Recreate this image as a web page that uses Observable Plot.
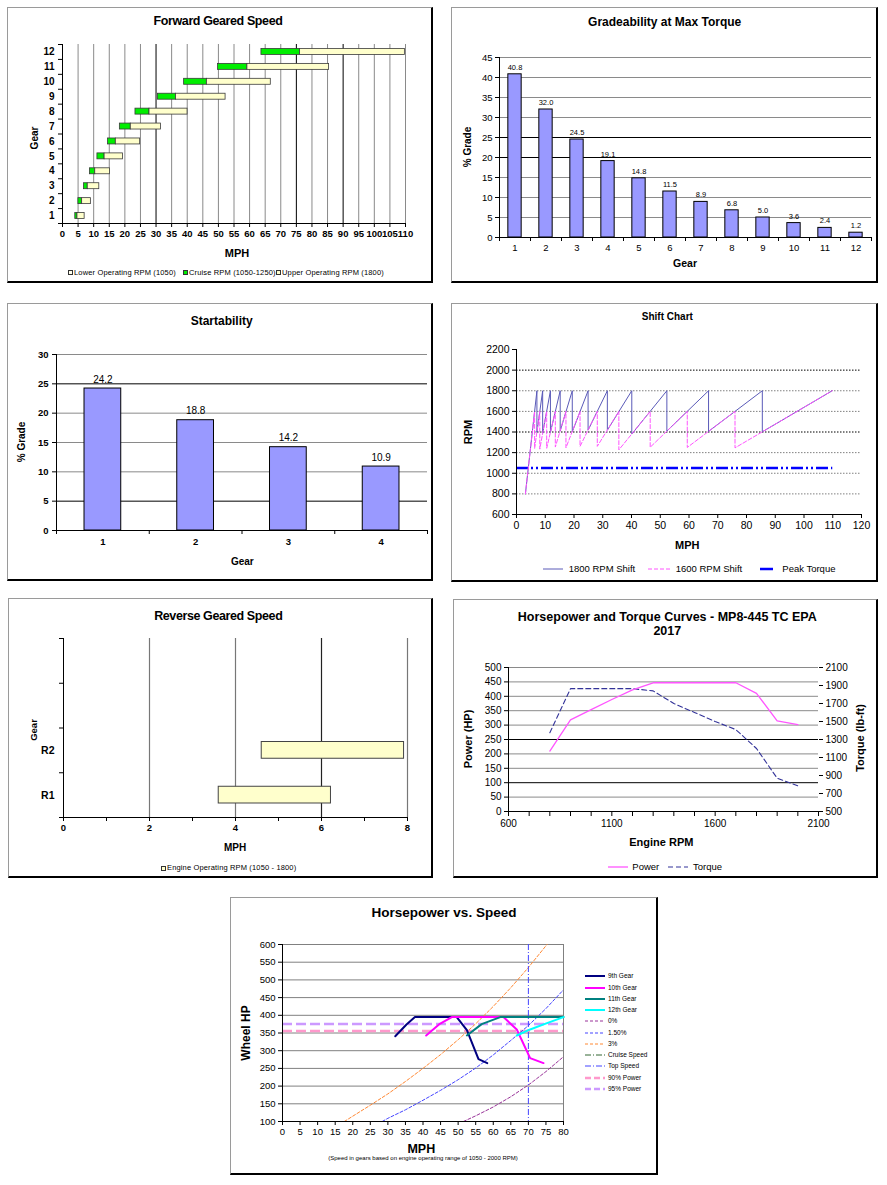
<!DOCTYPE html>
<html><head><meta charset="utf-8">
<script src="https://cdn.jsdelivr.net/npm/d3@7"></script>
<script src="https://cdn.jsdelivr.net/npm/@observablehq/plot@0.6"></script>
<style>
body{margin:0;background:#fff;font-family:'Liberation Sans',Arial,Helvetica,sans-serif;}
#root{position:relative;width:887px;height:1185px;overflow:hidden;background:#fff;}
.panel{position:absolute;box-sizing:border-box;border-left:1px solid #9a9a9a;border-top:1px solid #9a9a9a;border-right:2px solid #000;border-bottom:2px solid #000;}
.t{position:absolute;white-space:nowrap;line-height:1;color:#000;}
</style></head><body><div id="root"></div>
<script>
// ---------- DATA ----------
// Forward Geared Speed (MPH at RPM)
const fwdGears = [1,2,3,4,5,6,7,8,9,10,11,12];
const fwdLower = [4.1,5.1,6.9,8.8,11.2,14.6,18.4,23.4,30.6,39.0,49.9,63.8];
const fwdCruise = [4.8,6.3,8.1,10.5,13.5,17.1,21.9,27.9,36.4,46.3,59.3,76.2];
const fwdUpper = [7.1,9.1,11.8,15.2,19.4,24.9,31.6,40.1,52.3,66.8,85.5,109.8];
const fwdTicks = [0,5,10,15,20,25,30,35,40,45,50,55,60,65,70,75,80,85,90,95,100,105,110];

// Gradeability
const gradeGears = [1,2,3,4,5,6,7,8,9,10,11,12];
const gradeValues = [40.8,32.0,24.5,19.1,14.8,11.5,8.9,6.8,5.0,3.6,2.4,1.2];

// Startability
const startGears = [1,2,3,4];
const startValues = [24.2,18.8,14.2,10.9];

// Shift chart
const shift1800Mph = [3.1,7.1,7.1,9.1,9.1,11.8,11.8,15.2,15.2,19.4,19.4,24.9,24.9,31.6,31.6,40.1,40.1,52.3,52.3,66.8,66.8,85.5,85.5,109.8];
const shift1800Rpm = [800,1800,1396,1800,1388,1800,1397,1800,1410,1800,1402,1800,1418,1800,1418,1800,1380,1800,1409,1800,1406,1800,1402,1800];
const shift1600Mph = [3.1,6.3,6.3,8.1,8.1,10.5,10.5,13.5,13.5,17.2,17.2,22.1,22.1,28.1,28.1,35.6,35.6,46.5,46.5,59.4,59.4,76.0,76.0,109.8];
const shift1600Rpm = [800,1600,1241,1600,1234,1600,1242,1600,1254,1600,1247,1600,1261,1600,1261,1600,1227,1600,1252,1600,1250,1600,1246,1800];
const peakTorqueRpm = 1050;
const peakTorqueMph = [0,110];

// Reverse geared speed
const revGears = ["R1","R2"];
const revLower = [3.61,4.61];
const revUpper = [6.22,7.92];

// Horsepower & Torque curves
const engRpm = [800,900,1000,1100,1200,1300,1400,1500,1600,1700,1800,1900,2000];
const engPower = [210,318,354,389,422,447,447,447,447,447,410,315,302];
const engTorque = [1375,1865,1865,1865,1865,1840,1700,1600,1500,1410,1200,870,785];
const torqueTicks = [500,700,900,1100,1300,1500,1700,1900,2100];

// Horsepower vs speed
const g9Mph = [32.1,35.3,37.7,49.6,52.5,55.8,58.3];
const g9Hp = [341,374,395,395,358,276,265];
const g10Mph = [40.9,44.8,48.2,62.9,66.7,70.5,74.3];
const g10Hp = [343,376,395,395,360,279,265];
const g11Mph = [52.5,56.7,62.0,80];
const g11Hp = [343,375,395,395];
const g12Mph = [66.7,70.5,75.3,80];
const g12Hp = [343,360,378,395];
const grade0Mph = [51.5,55,60,65,70,75,80];
const grade0Hp = [100,116,141,170,203,241,283];
const grade15Mph = [28.4,30,35,40,45,50,55,60,65,70,75,80];
const grade15Hp = [100,109,133,160,188,218,251,288,329,371,419,472];
const grade3Mph = [17.6,20,25,30,35,40,45,50,55,60,65,70,75.3];
const grade3Hp = [100,115,146,178,213,250,289,331,376,425,478,535,600];
const topSpeed = 70;
const power90 = 355.5;
const power95 = 375.3;

// ---------- HELPERS ----------
const FONT = "'Liberation Sans', Arial, Helvetica, sans-serif";
const root = document.getElementById("root");
const svgNS = "http://www.w3.org/2000/svg";
const F = d => String(d);
function addPanel(x,y,w,h){const d=document.createElement("div");d.className="panel";Object.assign(d.style,{left:x+"px",top:y+"px",width:w+"px",height:h+"px"});root.appendChild(d);}
function addPlot(x,y,svg){svg.style.position="absolute";svg.style.left=x+"px";svg.style.top=y+"px";root.appendChild(svg);}
function txt(s,x,y,o={}){
  const d=document.createElement("div");d.className="t";d.textContent=s;
  d.style.fontSize=(o.size||10)+"px";d.style.fontWeight=o.bold?"bold":"normal";
  if(o.ls!==undefined) d.style.letterSpacing=o.ls+"px";
  const a=o.anchor||"middle";const tx=a==="middle"?"-50%":a==="end"?"-100%":"0";
  d.style.left=x+"px";d.style.top=y+"px";
  d.style.transform=`translate(${tx},-50%)`+(o.rotate?` rotate(${o.rotate}deg)`:"");
  root.appendChild(d);
}
function lineSample(x1,x2,y,stroke,w,dash){
  const s=document.createElementNS(svgNS,"svg");
  s.setAttribute("width",x2-x1);s.setAttribute("height",8);
  s.style.cssText=`position:absolute;left:${x1}px;top:${y-4}px;overflow:visible`;
  const l=document.createElementNS(svgNS,"line");
  l.setAttribute("x1",0);l.setAttribute("x2",x2-x1);l.setAttribute("y1",4);l.setAttribute("y2",4);
  l.setAttribute("stroke",stroke);l.setAttribute("stroke-width",w);if(dash)l.setAttribute("stroke-dasharray",dash);
  s.appendChild(l);root.appendChild(s);
}
function box(x,y,size,fill){const d=document.createElement("div");d.style.cssText=`position:absolute;left:${x}px;top:${y-size/2}px;width:${size}px;height:${size}px;background:${fill};border:1px solid #333;box-sizing:border-box`;root.appendChild(d);}
const base = {fontFamily:FONT, background:"transparent", overflow:"visible", color:"#000"};
const range = (a,b,s)=>d3.range(a,b+s/2,s);

// ---------- PANEL 1: Forward Geared Speed ----------
addPanel(7,7,426,276);
const fwd = fwdGears.map((g,i)=>({gear:g,lower:fwdLower[i],cruise:fwdCruise[i],upper:fwdUpper[i]}));
const darkFwd = [30,75,90];
addPlot(7,7,Plot.plot({
  width:426,height:276,marginLeft:55,marginRight:28,marginTop:37,marginBottom:60,
  style:{...base,fontSize:"9.5px",fontWeight:"bold"},
  x:{domain:[0,110]}, y:{domain:[0.5,12.5]},
  marks:[
    Plot.ruleX(fwdTicks.filter(d=>d>0&&!darkFwd.includes(d)),{stroke:"#8a8a8a"}),
    Plot.ruleX(darkFwd,{stroke:"#000"}),
    Plot.rect(fwd,{x1:"lower",x2:"cruise",y1:d=>d.gear-0.2,y2:d=>d.gear+0.2,fill:"#00ee00",stroke:"#3a3a3a",strokeWidth:0.8}),
    Plot.rect(fwd,{x1:"cruise",x2:"upper",y1:d=>d.gear-0.2,y2:d=>d.gear+0.2,fill:"#ffffcc",stroke:"#3a3a3a",strokeWidth:0.8}),
    Plot.ruleY([0.5],{stroke:"#000"}),
    Plot.ruleX([0],{stroke:"#000"}),
    Plot.axisX({ticks:fwdTicks,tickSize:4,tickPadding:3,tickFormat:F,label:null}),
    Plot.axisY({ticks:range(0.5,12.5,1),tickSize:4,tickFormat:()=>"",label:null}),
    Plot.axisY({ticks:fwdGears,tickSize:0,tickPadding:8,tickFormat:F,label:null,fontSize:10})
  ]
}));
txt("Forward Geared Speed",218,21,{size:12.5,bold:true,ls:-0.4});
txt("MPH",237,253,{size:11,bold:true});
txt("Gear",35,138,{size:10,bold:true,rotate:-90});
box(68,272.7,5,"#ffffee");txt("Lower Operating RPM (1050)",74,272.7,{size:7.5,anchor:"start",ls:0.15});
box(183,272.7,5,"#00ee00");txt("Cruise RPM (1050-1250)",189,272.7,{size:7.5,anchor:"start",ls:0.15});
box(276,272.7,5,"#ffffcc");txt("Upper Operating RPM (1800)",282,272.7,{size:7.5,anchor:"start",ls:0.15});

// ---------- PANEL 2: Gradeability ----------
addPanel(451,7,427,276);
const grade = gradeGears.map((g,i)=>({g,v:gradeValues[i]}));
addPlot(451,7,Plot.plot({
  width:427,height:276,marginLeft:48,marginRight:7,marginTop:50,marginBottom:46,
  style:{...base,fontSize:"9.5px"},
  x:{domain:[0.5,12.5]}, y:{domain:[0,45]},
  marks:[
    Plot.ruleY([5,10,15,30,35,40,45],{stroke:"#8a8a8a"}),
    Plot.ruleY([20,25],{stroke:"#000"}),
    Plot.rect(grade,{x1:d=>d.g-0.215,x2:d=>d.g+0.215,y1:0,y2:"v",fill:"#9999ff",stroke:"#000",strokeWidth:1}),
    Plot.text(grade,{x:"g",y:"v",text:d=>d.v.toFixed(1),dy:-7,fontSize:7.5}),
    Plot.ruleY([0],{stroke:"#000"}),
    Plot.ruleX([0.5],{stroke:"#000"}),
    Plot.axisY({ticks:range(0,45,5),tickSize:4,tickPadding:3,tickFormat:F,label:null}),
    Plot.axisX({ticks:range(0.5,12.5,1),tickSize:4,tickFormat:()=>"",label:null}),
    Plot.axisX({ticks:gradeGears,tickSize:0,tickPadding:7,tickFormat:F,label:null})
  ]
}));
txt("Gradeability at Max Torque",664.7,22.3,{size:12,bold:true});
txt("Gear",685,263.3,{size:10.5,bold:true});
txt("% Grade",468,146.7,{size:10,bold:true,rotate:-90});

// ---------- PANEL 3: Startability ----------
addPanel(7,303,426,278);
const start = startGears.map((g,i)=>({g,v:startValues[i]}));
addPlot(7,303,Plot.plot({
  width:426,height:278,marginLeft:49,marginRight:6,marginTop:51,marginBottom:51,
  style:{...base,fontSize:"9.5px",fontWeight:"bold"},
  x:{domain:[0.5,4.5]}, y:{domain:[0,30]},
  marks:[
    Plot.ruleY([10,15,20,30],{stroke:"#8a8a8a"}),
    Plot.ruleY([5,25],{stroke:"#000"}),
    Plot.rect(start,{x1:d=>d.g-0.198,x2:d=>d.g+0.198,y1:0,y2:"v",fill:"#9999ff",stroke:"#000",strokeWidth:1}),
    Plot.text(start,{x:"g",y:"v",text:d=>d.v.toFixed(1),dy:-9,fontSize:10,fontWeight:"normal"}),
    Plot.ruleY([0],{stroke:"#000"}),
    Plot.ruleX([0.5],{stroke:"#000"}),
    Plot.axisY({ticks:range(0,30,5),tickSize:4,tickPadding:4,tickFormat:F,label:null}),
    Plot.axisX({ticks:range(0.5,4.5,1),tickSize:4,tickFormat:()=>"",label:null}),
    Plot.axisX({ticks:startGears,tickSize:0,tickPadding:8,tickFormat:F,label:null})
  ]
}));
txt("Startability",221.7,320.7,{size:12,bold:true});
txt("Gear",242.3,561.7,{size:10,bold:true});
txt("% Grade",21.7,441.7,{size:10,bold:true,rotate:-90});

// ---------- PANEL 4: Shift Chart ----------
addPanel(451,303,427,279);
const s1800 = shift1800Mph.map((m,i)=>({m,r:shift1800Rpm[i]}));
const s1600 = shift1600Mph.map((m,i)=>({m,r:shift1600Rpm[i]}));
addPlot(451,303,Plot.plot({
  width:427,height:279,marginLeft:65,marginRight:17,marginTop:46,marginBottom:68,
  style:{...base,fontSize:"10.5px"},
  x:{domain:[0,120]}, y:{domain:[600,2200]},
  marks:[
    Plot.ruleY([800,1000,1200,1600,1800],{stroke:"#808080",strokeDasharray:"1.5,1.5"}),
    Plot.ruleY([1400,2000],{stroke:"#000",strokeDasharray:"1.5,1.5"}),
    Plot.ruleY([peakTorqueRpm],{x1:peakTorqueMph[0],x2:peakTorqueMph[1],stroke:"#0000ff",strokeWidth:2.5,strokeDasharray:"12,3,2,3,2,3"}),
    Plot.line(s1800,{x:"m",y:"r",stroke:"#5a5ab8",strokeWidth:1}),
    Plot.line(s1600,{x:"m",y:"r",stroke:"#ff55ff",strokeWidth:1,strokeDasharray:"4,2"}),
    Plot.ruleY([600],{stroke:"#000"}),
    Plot.ruleX([0],{stroke:"#000"}),
    Plot.axisY({ticks:range(600,2200,200),tickSize:4,tickPadding:3,tickFormat:F,label:null}),
    Plot.axisX({ticks:range(0,120,10),tickSize:4,tickPadding:3,tickFormat:F,label:null})
  ]
}));
txt("Shift Chart",667.3,317.3,{size:10,bold:true});
txt("MPH",687.3,545,{size:11,bold:true});
txt("RPM",468,431.7,{size:11,bold:true,rotate:-90});
lineSample(543,563,569.3,"#5a5ab8",1);txt("1800 RPM Shift",568.7,569.3,{size:9.5,anchor:"start"});
lineSample(648,670,569.3,"#ff55ff",1,"4,2");txt("1600 RPM Shift",675.7,569.3,{size:9.5,anchor:"start"});
lineSample(760,773,569.3,"#0000ff",2.5);txt("Peak Torque",782.3,569.3,{size:9.5,anchor:"start"});

// ---------- PANEL 5: Reverse Geared Speed ----------
addPanel(8,598,425,280);
const rev = revGears.map((g,i)=>({i:i+1,lower:revLower[i],upper:revUpper[i]}));
addPlot(8,598,Plot.plot({
  width:425,height:280,marginLeft:55,marginRight:26,marginTop:40,marginBottom:61,
  style:{...base,fontSize:"9.5px",fontWeight:"bold"},
  x:{domain:[0,8]}, y:{domain:[0.5,4.5]},
  marks:[
    Plot.ruleX([2,4,8],{stroke:"#777",strokeWidth:1.2}),
    Plot.ruleX([6],{stroke:"#222",strokeWidth:1.2}),
    Plot.rect(rev,{x1:"lower",x2:"upper",y1:d=>d.i-0.187,y2:d=>d.i+0.187,fill:"#ffffcc",stroke:"#444",strokeWidth:1}),
    Plot.ruleY([0.5],{stroke:"#000"}),
    Plot.ruleX([0],{stroke:"#000"}),
    Plot.axisX({ticks:range(0,8,1),tickSize:4,tickFormat:d=>d%2===0?String(d):"",tickPadding:3,label:null}),
    Plot.axisY({ticks:range(0.5,4.5,1),tickSize:4,tickFormat:()=>"",label:null}),
    Plot.axisY({ticks:[1,2],tickSize:0,tickPadding:9,tickFormat:d=>revGears[d-1],label:null,fontSize:10.5})
  ]
}));
txt("Reverse Geared Speed",218.3,615.7,{size:12.5,bold:true,ls:-0.4});
txt("MPH",235,848.3,{size:10,bold:true});
txt("Gear",34.3,730,{size:9.5,bold:true,rotate:-90});
box(161,868.3,5,"#ffffcc");txt("Engine Operating RPM (1050 - 1800)",167,868.3,{size:7.5,anchor:"start",ls:0.15});

// ---------- PANEL 6: Horsepower and Torque ----------
addPanel(453,599,425,279);
const eng = engRpm.map((r,i)=>({r,p:engPower[i],t:engTorque[i]}));
const tq2hp = t=>(t-500)*500/1600;
addPlot(453,599,Plot.plot({
  width:425,height:279,marginLeft:55,marginRight:60,marginTop:68,marginBottom:67,
  style:{...base,fontSize:"10px"},
  x:{domain:[600,2100]}, y:{domain:[0,500]},
  marks:[
    Plot.ruleY([50,150,200,300,350,400,450,500],{stroke:"#8a8a8a"}),
    Plot.ruleY([100,250],{stroke:"#000"}),
    Plot.line(eng,{x:"r",y:d=>tq2hp(d.t),stroke:"#333399",strokeWidth:1.1,strokeDasharray:"5,3"}),
    Plot.line(eng,{x:"r",y:"p",stroke:"#ff55ff",strokeWidth:1.3}),
    Plot.ruleX([600],{stroke:"#000"}),
    Plot.ruleY([0],{stroke:"#000"}),
    Plot.axisY({ticks:range(0,500,50),tickSize:4,tickPadding:3,tickFormat:F,label:null}),
    Plot.axisY({anchor:"right",ticks:torqueTicks.map(tq2hp),tickFormat:v=>String(Math.round(v*1600/500+500)),tickSize:4,tickPadding:3,label:null}),
    Plot.axisX({ticks:range(600,2100,100),tickSize:5,tickPadding:3,tickFormat:d=>d%500===100?String(d):"",label:null})
  ]
}));
txt("Horsepower and Torque Curves - MP8-445 TC EPA",667.3,616.7,{size:12.5,bold:true});
txt("2017",667.3,631,{size:12.5,bold:true});
txt("Engine RPM",661.3,841.7,{size:11,bold:true});
txt("Power (HP)",468,739,{size:11,bold:true,rotate:-90});
txt("Torque (lb-ft)",859.7,738.3,{size:11,bold:true,rotate:-90});
lineSample(608,628,866.7,"#ff55ff",1.3);txt("Power",632.3,866.7,{size:9.5,anchor:"start"});
lineSample(668,688,866.7,"#333399",1.1,"5,3");txt("Torque",693,866.7,{size:9.5,anchor:"start"});

// ---------- PANEL 7: Horsepower vs Speed ----------
addPanel(230,897,428,278);
const zipMH = (m,h)=>m.map((x,i)=>({m:x,h:h[i]}));
addPlot(230,897,Plot.plot({
  width:428,height:278,marginLeft:52,marginRight:95,marginTop:47,marginBottom:54,
  style:{...base,fontSize:"9.5px"},
  x:{domain:[0,80]}, y:{domain:[100,600]},
  marks:[
    Plot.ruleY(range(150,600,50),{stroke:"#808080"}),
    Plot.ruleX([80],{stroke:"#808080"}),
    Plot.ruleY([power90],{stroke:"#ff99cc",strokeWidth:2.5,strokeDasharray:"10,4"}),
    Plot.ruleY([power95],{stroke:"#cc99ff",strokeWidth:2.5,strokeDasharray:"10,4"}),
    Plot.line(zipMH(grade0Mph,grade0Hp),{x:"m",y:"h",stroke:"#993399",strokeWidth:1,strokeDasharray:"3,2",clip:true}),
    Plot.line(zipMH(grade15Mph,grade15Hp),{x:"m",y:"h",stroke:"#4444ff",strokeWidth:1,strokeDasharray:"3,2",clip:true}),
    Plot.line(zipMH(grade3Mph,grade3Hp),{x:"m",y:"h",stroke:"#ff8833",strokeWidth:1,strokeDasharray:"3,2",clip:true}),
    Plot.ruleX([topSpeed],{stroke:"#4444ff",strokeWidth:1,strokeDasharray:"6,2,1,2"}),
    Plot.line(zipMH(g9Mph,g9Hp),{x:"m",y:"h",stroke:"#000080",strokeWidth:2}),
    Plot.line(zipMH(g10Mph,g10Hp),{x:"m",y:"h",stroke:"#ff00ff",strokeWidth:2}),
    Plot.line(zipMH(g11Mph,g11Hp),{x:"m",y:"h",stroke:"#008080",strokeWidth:2}),
    Plot.line(zipMH(g12Mph,g12Hp),{x:"m",y:"h",stroke:"#00ffff",strokeWidth:2}),
    Plot.ruleX([0],{stroke:"#000"}),
    Plot.ruleY([100],{stroke:"#000"}),
    Plot.axisY({ticks:range(100,600,50),tickSize:4,tickPadding:3,tickFormat:F,label:null}),
    Plot.axisX({ticks:range(0,80,5),tickSize:4,tickPadding:3,tickFormat:F,label:null})
  ]
}));
txt("Horsepower vs. Speed",444,913.3,{size:13.5,bold:true});
txt("MPH",421.3,1149,{size:12.5,bold:true});
txt("(Speed in gears based on engine operating range of 1050 - 2000 RPM)",423,1158.3,{size:6});
txt("Wheel HP",246.3,1033,{size:12,bold:true,rotate:-90});
const leg7 = [
  ["9th Gear","#000080",2,null],["10th Gear","#ff00ff",2,null],["11th Gear","#008080",2,null],["12th Gear","#00ffff",2,null],
  ["0%","#993399",1,"3,2"],["1.50%","#4444ff",1,"3,2"],["3%","#ff8833",1,"3,2"],
  ["Cruise Speed","#336633",1,"6,2,1,2"],["Top Speed","#4444ff",1,"6,2,1,2"],
  ["90% Power","#ff99cc",2.5,"6,3"],["95% Power","#cc99ff",2.5,"6,3"]
];
leg7.forEach(([name,c,w,dash],i)=>{
  const y = 976.3 + i*11.27;
  lineSample(585,605,y,c,w,dash);
  txt(name,608,y,{size:6.5,anchor:"start"});
});
</script></body></html>
